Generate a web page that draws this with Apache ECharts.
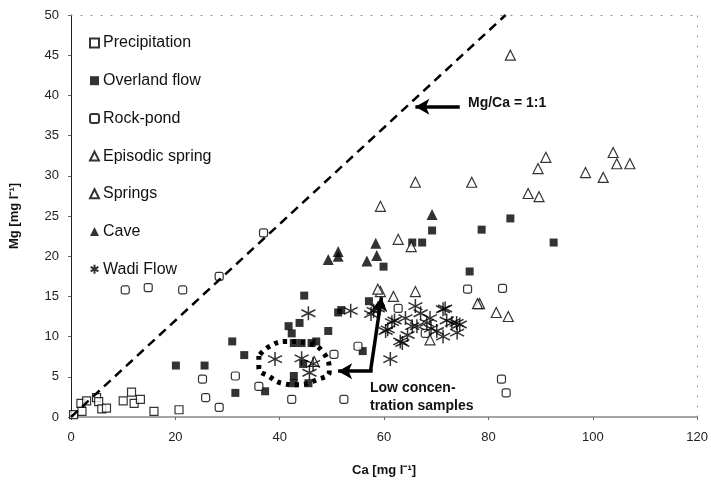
<!DOCTYPE html>
<html>
<head>
<meta charset="utf-8">
<script src="https://cdn.jsdelivr.net/npm/echarts@6/dist/echarts.min.js"></script>
<style>
  html, body { margin: 0; padding: 0; background: #fff; }
  #chart { width: 711px; height: 482px; }
</style>
</head>
<body>
<div id="chart"></div>
<script>
// 轴刻度
const xTicks = [0, 20, 40, 60, 80, 100, 120];
const yTicks = [0, 5, 10, 15, 20, 25, 30, 35, 40, 45, 50];

// 各类样本 Ca / Mg (mg/l)
const precipCa = [0.5, 1.9, 3.0, 4.9, 5.3, 5.9, 6.8, 2.1, 10.0, 11.6, 12.1, 13.3, 15.9, 20.7];
const precipMg = [0.3, 1.7, 2.0, 2.4, 1.9, 1.0, 1.1, 0.7, 2.0, 3.1, 1.7, 2.2, 0.7, 0.9];

const overlandCa = [20.1, 25.6, 30.9, 33.2, 31.5, 37.2, 44.7, 51.2, 51.8, 57.1, 43.8, 41.7, 42.3, 42.7, 44.2, 46.1, 47.0, 49.3, 44.5, 42.7, 42.7, 45.5, 55.9, 59.9, 65.4, 67.3, 69.2, 78.7, 84.2, 92.5, 76.4];
const overlandMg = [6.4, 6.4, 9.4, 7.7, 3.0, 3.2, 15.1, 13.0, 13.3, 14.4, 11.7, 11.3, 10.4, 9.2, 9.2, 9.2, 9.4, 10.7, 6.6, 5.1, 4.2, 4.2, 8.2, 18.7, 21.7, 21.7, 23.2, 23.3, 24.7, 21.7, 18.1];

const rockCa = [10.4, 14.8, 21.4, 28.4, 36.9, 25.2, 25.8, 28.4, 31.5, 36.0, 42.3, 52.3, 55.0, 50.4, 62.7, 67.9, 76.0, 82.7, 82.5, 83.4];
const rockMg = [15.8, 16.1, 15.8, 17.5, 22.9, 4.7, 2.4, 1.2, 5.1, 3.8, 2.2, 2.2, 8.8, 7.8, 13.5, 10.4, 15.9, 16.0, 4.7, 3.0];

const episodicCa = [84.2, 91.0, 89.5, 103.9, 104.6, 107.1, 98.6, 102.0, 87.6, 89.7];
const episodicMg = [45.0, 32.3, 30.9, 32.9, 31.5, 31.5, 30.4, 29.8, 27.8, 27.4];

const springsCa = [66.0, 76.8, 59.3, 62.7, 65.2, 66.0, 61.8, 59.3, 58.8, 78.3, 81.5, 83.8, 68.8, 46.6, 77.9];
const springsMg = [29.2, 29.2, 26.2, 22.1, 21.2, 15.6, 15.0, 15.6, 15.9, 14.1, 13.0, 12.5, 9.6, 6.9, 14.1];

const caveCa = [49.3, 51.2, 51.2, 58.4, 58.6, 56.7, 69.2];
const caveMg = [19.6, 20.6, 20.0, 21.6, 20.1, 19.4, 25.2];

const wadiCa = [45.5, 53.6, 39.1, 44.2, 46.4, 45.7, 61.2, 63.1, 66.0, 71.3, 73.0, 65.4, 60.3, 64.1, 68.2, 70.1, 74.5, 58.8, 68.8, 58.0, 63.5, 71.7, 73.9, 60.7, 66.3, 71.3, 62.0, 67.0, 69.0, 72.0, 74.0, 61.5, 64.5, 57.5];
const wadiMg = [12.9, 13.2, 7.2, 7.3, 6.6, 5.5, 7.2, 9.4, 13.8, 13.4, 11.7, 11.3, 10.7, 12.3, 11.7, 10.7, 11.5, 13.5, 12.3, 13.2, 9.2, 13.5, 11.7, 10.9, 11.3, 10.0, 12.0, 12.9, 11.0, 12.0, 10.5, 11.8, 10.2, 12.8];

// Mg/Ca = 1:1 (摩尔比) 虚线端点
const ratioCa = [0, 83.3];
const ratioMg = [0, 50];

// 低浓度样本 圈出的点线
const loopCa = [36.0, 36.0, 38.1, 40.4, 43.2, 47.4, 49.5, 48.5, 45.1, 41.3, 38.1, 36.0];
const loopMg = [7.6, 6.1, 5.0, 4.2, 4.0, 4.7, 5.6, 7.9, 9.2, 9.4, 8.8, 7.6];

const pairs = (xs, ys) => xs.map((x, i) => [x, ys[i]]);

const openStyle = { color: '#fff', borderColor: '#000', borderWidth: 1.2 };
const fillStyle = { color: '#000', borderColor: '#000', borderWidth: 0 };
const starPath = 'path://M5 0L5 10M0.7 2.5L9.3 7.5M9.3 2.5L0.7 7.5';

const arrowStyle = { color: '#000', width: 3.5, type: 'solid' };

const option = {
  backgroundColor: '#fff',
  animation: false,
  textStyle: { fontFamily: 'Liberation Sans, Arial, sans-serif' },
  grid: { left: 67, right: 10, top: 15, bottom: 61 },
  legend: {
    data: ['Precipitation', 'Overland flow', 'Rock-pond', 'Episodic spring', 'Springs', 'Cave', 'Wadi Flow'],
    orient: 'vertical',
    left: 84,
    top: 30,
    itemWidth: 9,
    itemHeight: 9,
    itemGap: 21.7,
    textStyle: { fontSize: 16, lineHeight: 16, color: '#111', padding: [0, 0, 0, -1] }
  },
  xAxis: [{
    type: 'value', min: 0, max: 120, interval: 20,
    name: 'Ca [mg l\u207B\u00B9]', nameLocation: 'middle', nameGap: 47,
    nameTextStyle: { fontSize: 13, fontWeight: 'bold', color: '#111' },
    axisLine: { lineStyle: { color: '#888', width: 1.5 } },
    axisTick: { show: true, length: 3, lineStyle: { color: '#666' } },
    axisLabel: { fontSize: 13, color: '#222', margin: 14 },
    splitLine: { show: false }
  }, {
    type: 'value', min: 0, max: 120, position: 'top',
    axisLine: { show: true, onZero: false, lineStyle: { color: '#888', width: 1, type: [1, 9] } },
    axisTick: { show: false }, axisLabel: { show: false }, splitLine: { show: false }
  }],
  yAxis: [{
    type: 'value', min: 0, max: 50, interval: 5,
    name: 'Mg [mg l\u207B\u00B9]', nameLocation: 'middle', nameGap: 50, nameRotate: 90,
    nameTextStyle: { fontSize: 13, fontWeight: 'bold', color: '#111' },
    axisLine: { show: true, lineStyle: { color: '#222', width: 1 } },
    axisTick: { show: true, length: 3, lineStyle: { color: '#666' } },
    axisLabel: { fontSize: 13, color: '#222', margin: 12 },
    splitLine: { show: false }
  }, {
    type: 'value', min: 0, max: 50, position: 'right',
    axisLine: { show: true, onZero: false, lineStyle: { color: '#888', width: 1, type: [1, 9] } },
    axisTick: { show: false }, axisLabel: { show: false }, splitLine: { show: false }
  }],
  graphic: [
    { type: 'text', left: 468, top: 96, style: { text: 'Mg/Ca = 1:1', font: 'bold 14px Liberation Sans', fill: '#111' } },
    { type: 'text', left: 370, top: 379, style: { text: 'Low concen-\ntration samples', font: 'bold 14px Liberation Sans', lineHeight: 18, fill: '#111' } }
  ],
  series: [
    {
      name: 'ratio', type: 'line', data: pairs(ratioCa, ratioMg), symbol: 'none', silent: true,
      lineStyle: { color: '#000', width: 2.5, type: [9, 6] },
      markLine: {
        silent: true, symbolSize: [12, 14], lineStyle: arrowStyle, label: { show: false },
        data: [
          [{ coord: [74.5, 38.6], symbol: 'none' }, { coord: [66.0, 38.6], symbol: 'arrow' }],
          [{ coord: [57.4, 5.7], symbol: 'none' }, { coord: [59.5, 14.9], symbol: 'arrow' }],
          [{ coord: [57.8, 5.7], symbol: 'none' }, { coord: [51.2, 5.7], symbol: 'arrow' }]
        ]
      }
    },
    {
      name: 'loop', type: 'line', data: pairs(loopCa, loopMg), symbol: 'none', smooth: true, silent: true,
      lineStyle: { color: '#000', width: 5, type: [4, 5] }
    },
    { name: 'Precipitation', type: 'scatter', symbol: 'rect', symbolSize: 8, itemStyle: openStyle, data: pairs(precipCa, precipMg) },
    { name: 'Overland flow', type: 'scatter', symbol: 'rect', symbolSize: 8, itemStyle: fillStyle, data: pairs(overlandCa, overlandMg) },
    { name: 'Rock-pond', type: 'scatter', symbol: 'roundRect', symbolSize: 8, itemStyle: openStyle, data: pairs(rockCa, rockMg) },
    { name: 'Episodic spring', type: 'scatter', symbol: 'triangle', symbolSize: 10, itemStyle: openStyle, data: pairs(episodicCa, episodicMg) },
    { name: 'Springs', type: 'scatter', symbol: 'triangle', symbolSize: 10, itemStyle: openStyle, data: pairs(springsCa, springsMg) },
    { name: 'Cave', type: 'scatter', symbol: 'triangle', symbolSize: 11, itemStyle: fillStyle, data: pairs(caveCa, caveMg) },
    { name: 'Wadi Flow', type: 'scatter', symbol: starPath, symbolSize: 14, itemStyle: { color: '#000', borderColor: '#000', borderWidth: 1.5 }, data: pairs(wadiCa, wadiMg) }
  ]
};

const chart = echarts.init(document.getElementById('chart'));
chart.setOption(option);
</script>
</body>
</html>
